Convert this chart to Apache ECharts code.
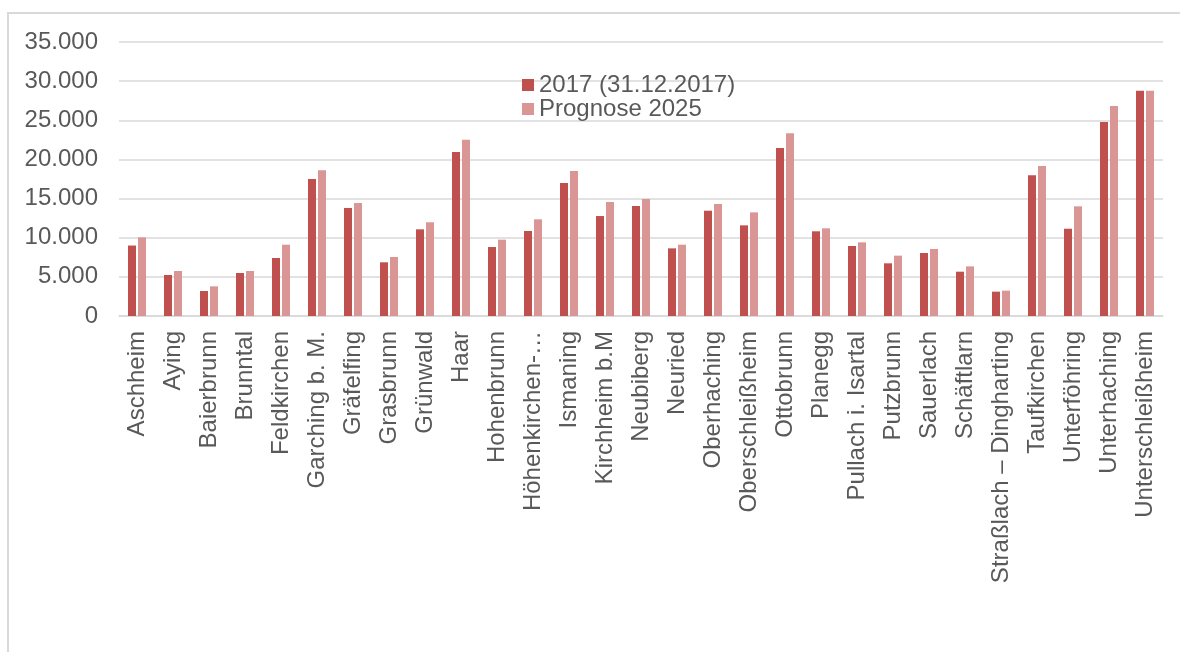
<!DOCTYPE html>
<html>
<head>
<meta charset="utf-8">
<script src="https://cdn.jsdelivr.net/npm/echarts@6/dist/echarts.min.js"></script>
<style>
html,body{margin:0;padding:0;background:#fff;}
#chart{width:1180px;height:652px;}
</style>
</head>
<body>
<div id="chart"></div>
<script>
const categories = ["Aschheim","Aying","Baierbrunn","Brunntal","Feldkirchen","Garching b. M.","Gräfelfing","Grasbrunn","Grünwald","Haar","Hohenbrunn","Höhenkirchen-…","Ismaning","Kirchheim b.M","Neubiberg","Neuried","Oberhaching","Oberschleißheim","Ottobrunn","Planegg","Pullach i. Isartal","Putzbrunn","Sauerlach","Schäftlarn","Straßlach – Dingharting","Taufkirchen","Unterföhring","Unterhaching","Unterschleißheim"];
const series2017Name = "2017 (31.12.2017)";
const series2025Name = "Prognose 2025";
const values2017 = [9000,5240,3190,5490,7410,17500,13800,6860,11070,20950,8810,10860,16990,12770,14050,8640,13450,11580,21460,10820,8940,6730,8050,5660,3110,17970,11150,24780,28780];
const values2025 = [10050,5750,3790,5750,9110,18610,14430,7540,11970,22520,9750,12350,18520,14560,14950,9110,14310,13240,23340,11200,9410,7710,8560,6340,3240,19160,14010,26830,28780];
const yTicks = {min:0, max:35000, interval:5000};

const FONT = "'Liberation Sans', Arial, sans-serif";
const TXT = "#595959";
const chart = echarts.init(document.getElementById('chart'), null, {renderer:'canvas'});
chart.setOption({
  animation:false,
  backgroundColor:'#ffffff',
  textStyle:{fontFamily:FONT},
  graphic:[{type:'rect', shape:{x:8,y:13,width:1300,height:800}, style:{fill:'none', stroke:'#d9d9d9', lineWidth:2}, silent:true, z:-1}],
  legend:{
    orient:'vertical', left:517, top:68,
    itemWidth:12, itemHeight:12, itemGap:0,
    icon:'rect',
    textStyle:{color:TXT, fontSize:24, fontFamily:FONT, lineHeight:23},
    data:[series2017Name, series2025Name]
  },
  grid:{left:119, right:17, top:42, bottom:336, containLabel:false},
  xAxis:{
    type:'category', data:categories,
    axisLine:{show:true, lineStyle:{color:'#d9d9d9', width:1.5}},
    axisTick:{show:false},
    axisLabel:{rotate:90, interval:0, color:TXT, fontSize:24, fontFamily:FONT, margin:15}
  },
  yAxis:{
    type:'value', min:yTicks.min, max:yTicks.max, interval:yTicks.interval,
    axisLine:{show:false}, axisTick:{show:false},
    splitLine:{lineStyle:{color:'#d9d9d9', width:1.5}},
    axisLabel:{color:TXT, fontSize:24, fontFamily:FONT, margin:21,
      formatter:function(v){return v.toString().replace(/\B(?=(\d{3})+(?!\d))/g,'.');}}
  },
  series:[
    {name:series2017Name, type:'bar', data:values2017, barWidth:8, barGap:'25%', itemStyle:{color:'#c0504d'}},
    {name:series2025Name, type:'bar', data:values2025, barWidth:8, itemStyle:{color:'#d99694'}}
  ]
});
</script>
</body>
</html>
